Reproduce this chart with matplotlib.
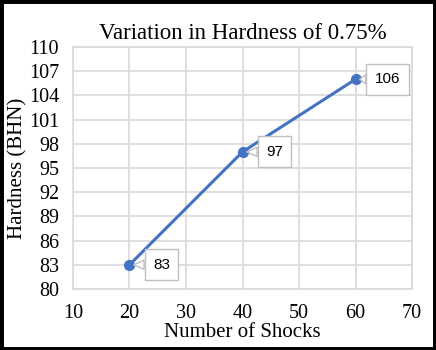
import matplotlib.pyplot as plt
from matplotlib.patches import Rectangle

shocks = [20, 40, 60]
hardness = [83, 97, 106]
x_ticks = [10, 20, 30, 40, 50, 60, 70]
y_ticks = list(range(80, 111, 3))

serif = "Liberation Serif"
sans = "Liberation Sans"

fig = plt.figure(figsize=(4.36, 3.5), dpi=100)
ax = fig.add_axes([0.1674, 0.1743, 0.7776, 0.6914])

ax.plot(shocks, hardness, color="#4472C4", linewidth=2.2, marker="o",
        markersize=7, solid_capstyle="round", zorder=3)

for x, y in zip(shocks, hardness):
    ax.annotate(str(y), xy=(x, y), xytext=(23, 0), textcoords="offset points",
                ha="center", va="center", fontsize=11, family=sans,
                bbox=dict(boxstyle="square,pad=0.55", fc="white", ec="#BFBFBF", lw=1),
                arrowprops=dict(arrowstyle="wedge,tail_width=0.6,shrink_factor=0.5",
                                fc="white", ec="#BFBFBF", lw=1, shrinkA=0, shrinkB=3),
                zorder=4)

ax.set_xlim(10, 70)
ax.set_ylim(80, 110)
ax.set_xticks(x_ticks)
ax.set_yticks(y_ticks)
ax.grid(True, color="#D9D9D9", linewidth=1.2)
ax.set_axisbelow(True)
for s in ax.spines.values():
    s.set_color("#D9D9D9")
    s.set_linewidth(1.2)
ax.tick_params(length=0, labelsize=14.5)
ax.tick_params(axis="y", pad=10)
ax.tick_params(axis="x", pad=11)
for lab in ax.get_xticklabels() + ax.get_yticklabels():
    lab.set_family(serif)

ax.set_xlabel("Number of Shocks", fontsize=15, family=serif, labelpad=0)
ax.set_ylabel("Hardness (BHN)", fontsize=15, family=serif, labelpad=1)
fig.text(0.557, 0.905, "Variation in Hardness of 0.75%", ha="center", va="center",
         fontsize=16.5, family=serif)

fig.patches.append(Rectangle((0, 0), 1, 1, transform=fig.transFigure,
                             fill=False, ec="black", lw=5))

fig.savefig("out.png", dpi=100)
